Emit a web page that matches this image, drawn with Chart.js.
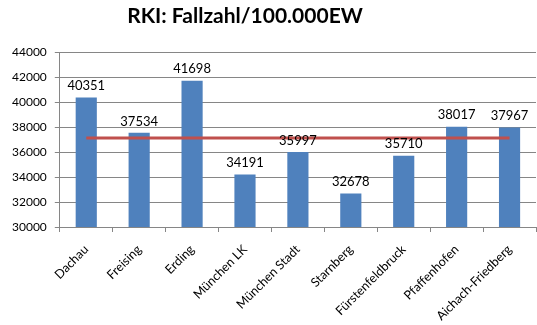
<!DOCTYPE html>
<html><head><meta charset="utf-8">
<script src="https://cdn.jsdelivr.net/npm/chart.js@4/dist/chart.umd.min.js"></script>
<style>html,body{margin:0;padding:0;background:#fff}#wrap{width:537px;height:325px}</style>
</head><body><div id="wrap"><canvas id="c" width="537" height="325"></canvas></div>
<script>
const titleText = "RKI: Fallzahl/100.000EW";
const categories = ["Dachau","Freising","Erding","München LK","München Stadt","Starnberg","Fürstenfeldbruck","Pfaffenhofen","Aichach-Friedberg"];
const values = [40351,37534,41698,34191,35997,32678,35710,38017,37967];
const averageLine = [37127,37127,37127,37127,37127,37127,37127,37127,37127];
const yMin = 30000, yMax = 44000, yStep = 2000;

const FONT = "Lato, 'Open Sans', sans-serif";

const titlePlugin = {
  id: 'customTitle',
  afterDraw(chart) {
    const ctx = chart.ctx;
    ctx.save();
    ctx.font = "bold 21px " + FONT;
    ctx.fillStyle = "#000";
    ctx.textAlign = "center";
    ctx.textBaseline = "middle";
    ctx.fillText(titleText, 245, 16);
    ctx.restore();
  }
};
const labelPlugin = {
  id: 'barLabels',
  afterDatasetsDraw(chart) {
    const ctx = chart.ctx;
    const meta = chart.getDatasetMeta(0);
    ctx.save();
    ctx.font = "13px " + FONT;
    ctx.fillStyle = "#000";
    ctx.textAlign = "center";
    ctx.textBaseline = "bottom";
    meta.data.forEach((el, i) => {
      ctx.fillText(String(values[i]), el.x, el.y - 5);
    });
    ctx.restore();
  }
};

new Chart(document.getElementById('c'), {
  type: 'bar',
  data: {
    labels: categories,
    datasets: [
      { type: 'bar', data: values, backgroundColor: '#4F81BD', barPercentage: 0.4, categoryPercentage: 1.0, order: 2 },
      { type: 'line', data: averageLine, borderColor: '#C0504D', borderWidth: 3, pointRadius: 0, fill: false, order: 1 }
    ]
  },
  options: {
    responsive: false,
    animation: false,
    events: [],
    layout: { padding: { top: 52, right: 1, left: 4, bottom: 0 } },
    plugins: { legend: { display: false }, title: { display: false }, tooltip: { enabled: false } },
    scales: {
      y: {
        min: yMin, max: yMax,
        ticks: { stepSize: yStep, color: '#000', font: { family: FONT, size: 12 }, padding: 8,
                 callback: (v) => String(v) },
        grid: { color: '#868686', tickLength: 5, tickColor: '#868686' },
        border: { color: '#868686' }
      },
      x: {
        ticks: { color: '#000', font: { family: FONT, size: 12.5 }, minRotation: 45, maxRotation: 45, padding: 10 },
        grid: { offset: true, drawOnChartArea: false, tickLength: 5, color: '#868686' },
        border: { color: '#868686' },
        afterFit: (scale) => { scale.height = 98; }
      }
    }
  },
  plugins: [titlePlugin, labelPlugin]
});
</script></body></html>
